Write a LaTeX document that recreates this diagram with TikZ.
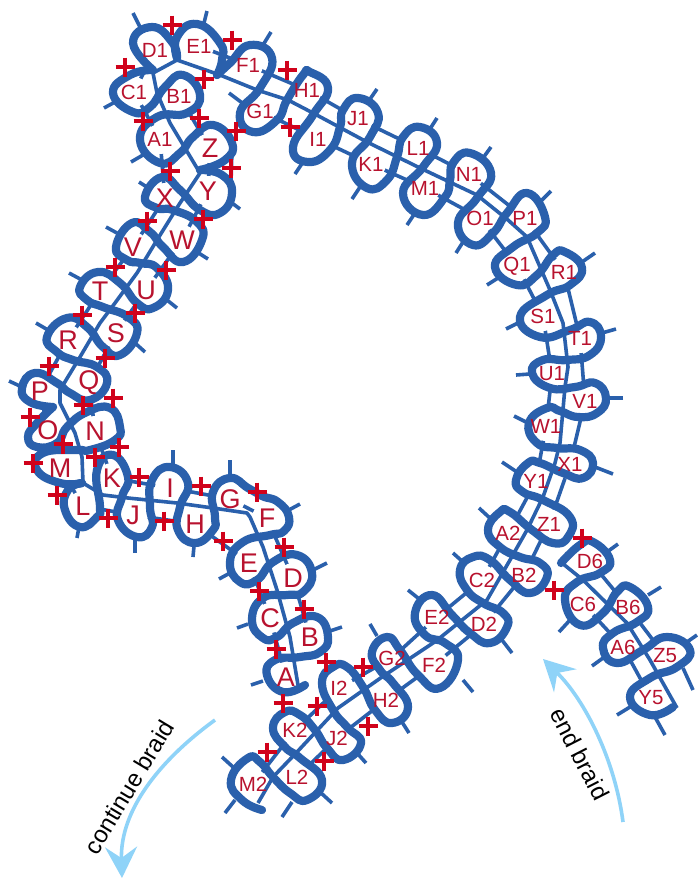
\documentclass[tikz,border=0pt]{standalone}
\usepackage{fontspec}
\setmainfont{Liberation Sans}
\usetikzlibrary{arrows.meta}
\definecolor{bandblue}{HTML}{2A60AC}
\definecolor{plusred}{HTML}{D0021B}
\definecolor{labred}{HTML}{B8122E}
\definecolor{arrowblue}{HTML}{8FD3F8}
\tikzset{
  wave/.style={draw=bandblue,line width=8.2pt,line cap=round,line join=round},
  rail/.style={draw=bandblue,line width=3.6pt,line join=round},
  plusmark/.style={draw=plusred,line width=3.2pt},
  biglab/.style={text=labred,inner sep=0pt,font=\fontsize{27}{27}\selectfont},
  smalllab/.style={text=labred,inner sep=0pt,font=\fontsize{20.5}{20.5}\selectfont},
  sweep/.style={draw=arrowblue,line width=3.6pt,-{Stealth[length=31pt,width=32pt,inset=11pt]}},
  caption/.style={text=black,inner sep=0pt,font=\fontsize{24}{24}\selectfont}
}
\newcommand{\wv}[1]{\draw[wave] plot[smooth,tension=0.85] coordinates {#1};}
\begin{document}
\begin{tikzpicture}[x=1pt,y=-1pt]
\useasboundingbox (0,0) rectangle (698,879);
\fill[white] (0,0) rectangle (698,879);
% letter positions
\foreach \n/\x/\y in {A/286/677,B/310/637,C/270/618,D/293/578,E/249/563,F/267/518,G/230/499,H/195/524,I/170/488,J/133/515,K/112/478,L/83/506,M/60/468,N/95/431,O/48/430,P/40/391,Q/89/383,R/68/340,S/116/333,T/100/291,U/146/290,V/133/247,W/182/240,X/165/198,Y/208/191,Z/210/148}
  {\coordinate (\n) at (\x,\y);}
\foreach \n/\x/\y in {A1/160/139,B1/179/96,C1/134/92,D1/155/50,E1/199/46,F1/248/65,G1/260/111,H1/307/90,I1/318/139,J1/358/119,K1/371/164,L1/418/148,M1/425/188,N1/469/174,O1/480/218,P1/525/218,Q1/517/266,R1/564/272,S1/543/316,T1/580/338,U1/552/374,V1/585/401,W1/546/426,X1/570/464,Y1/536/481,Z1/549/524,A2/508/533,B2/524/575,C2/482/580,D2/484/624,E2/437/617,F2/434/665,G2/392/658,H2/386/700,I2/339/688,J2/337/738,K2/295/730,L2/297/777,M2/253/784,D6/590/561,C6/583/604,B6/628/607,A6/623/647,Z5/665/656,Y5/651/698}
  {\coordinate (\n) at (\x,\y);}
% outer rails
\draw[rail] (A)--(C)--(E)--(H)--(J)--(L)--(M)--(O)--(P)--(R)--(T)--(V)--(X)--(A1)--(C1)--(D1);
\draw[rail] (B)--(D)--(F)--(G)--(I)--(K)--(N)--(Q)--(S)--(U)--(W)--(Y)--(Z)--(B1);
\draw[rail] (E1)--(F1)--(H1)--(J1)--(L1)--(N1)--(P1)--(R1)--(T1)--(V1)--(X1)--(Z1)--(B2)--(D2)--(F2)--(H2)--(J2)--(L2);
\draw[rail] (G1)--(I1)--(K1)--(M1)--(O1)--(Q1)--(S1)--(U1)--(W1)--(Y1)--(A2)--(C2)--(E2)--(G2)--(I2)--(K2)--(M2);
\draw[rail] (D6)--(B6)--(Z5);
\draw[rail] (C6)--(A6)--(Y5);
\draw[rail] (232,150)--(231,182);
% white lobes
\foreach \n in {A,B,C,D,E,F,G,H,I,J,K,L,M,N,O,P,Q,R,S,T,U,V,W,X,Y,Z,A1,B1,C1,D1,E1,F1,G1,H1,I1,J1,K1,L1,M1,N1,O1,P1,Q1,R1,S1,T1,U1,V1,W1,X1,Y1,Z1,A2,B2,C2,D2,E2,F2,G2,H2,I2,J2,K2,L2,M2,D6,C6,B6,A6,Z5,Y5}
  {\fill[white] (\n) circle (15);}
% stubs
\foreach \a/\b/\c/\d in {133/13/140/27,207/11/204/23,271/32/263/45,104/108/115/102,229/93/245/105,295/174/303/162,131/162/143/155,240/209/228/200,139/182/150/189,377/89/368/102,352/199/360/187,437/118/428/132,407/225/415/213,491/147/483/158,456/253/463/242,551/191/540/202,487/285/498/278,595/253/582/262,506/329/518/323,616/329/602/333,516/375/530/374,623/398/608/398,514/416/528/423,613/474/595/467,502/462/517/472,479/508/492/520,453/553/463/562,512/653/502/640,408/590/418/598,473/692/463/680,370/624/377/636,409/733/402/722,366/763/357/753,332/803/320/792,282/817/292/802,222/757/233/767,225/813/235/800,251/685/263/681,342/627/330/631,237/628/248/624,327/563/313/570,219/579/230/573,300/504/287/511,230/460/230/477,173/450/173/465,193/557/194/546,135/553/135/539,77/538/79/527,9/381/22/387,36/323/48/330,69/273/82/280,106/227/117/233,208/259/197/252,177/308/167/300,145/352/135/343,618/544/607/552,559/632/570/620,661/587/648/595,592/666/603/658,697/635/687/642,693/690/683/668,617/715/630/707,665/735/655/717}
  {\draw[rail] (\a,\b)--(\c,\d);}
% middle rails
\draw[rail] (298,685)--(290,637)--(277,590)--(263,547)--(250,517)--(247,513)--(213,508)--(177,503)--(128,498)--(103,495)--(83,483)--(82,457)--(75,433)--(60,403)--(60,390)--(80,357)--(100,323)--(115,303)--(137,273)--(157,240)--(180,203)--(200,173)--(170,123)--(157,93)--(153,73)--(177,60)--(220,75)--(257,90)--(288,100)--(313,113)--(367,142)--(418,167)--(477,195)--(508,220)--(527,237)--(550,290)--(563,323)--(568,367)--(565,387)--(560,443)--(555,463)--(543,497)--(527,530)--(510,560)--(487,600)--(436,641)--(382,677)--(338,708)--(297,752)--(273,777)--(258,803);
\draw[rail] (562,563)--(583,580)--(627,623)--(650,660)--(677,708);
% thick wave
\wv{(305,685)(283,692)(267,675)(275,660)(300,657)(320,652)(328,637)(317,617)(293,623)(277,637)(263,638)(252,620)(263,598)(287,595)(303,592)(312,573)(297,555)(273,562)(257,580)(240,582)(230,562)(243,542)(270,535)(284,531)(289,517)(278,502)(262,496)(248,488)(230,478)(213,492)(215,517)(213,530)(195,543)(178,530)(180,507)(188,483)(170,467)(152,480)(150,507)(152,527)(137,537)(118,520)(122,497)(128,477)(113,455)(97,470)(100,507)(97,517)(80,527)(65,510)(68,490)(82,483)}
\wv{(82,483)(60,483)(37,470)(43,453)(77,450)(90,450)(115,440)(120,427)(110,408)(87,412)(67,427)(57,443)(37,447)(28,437)(37,423)(53,407)}
\wv{(53,407)(30,402)(22,388)(35,373)(57,383)(70,393)(90,400)(107,383)(97,367)(73,360)(57,352)(47,337)(67,318)(87,327)(103,347)(120,355)(137,333)(128,317)(103,307)(87,300)(80,287)(98,272)(120,283)(137,303)(153,308)(168,290)(157,268)(140,263)(127,260)(116,247)(132,223)(150,232)(163,247)(183,262)(202,240)(197,222)(173,210)(157,208)(145,197)(162,177)(180,190)(200,210)(220,213)(232,193)(222,175)(200,170)}
\wv{(200,170)(225,160)(232,143)(213,125)(193,137)(180,153)(160,163)(140,140)(157,117)(187,113)(200,95)(183,75)(165,87)(150,107)(133,112)(113,93)(130,75)(153,70)}
\wv{(153,70)(133,43)(152,27)(172,42)(177,58)}
\wv{(177,58)(177,37)(197,24)(220,43)(222,60)(217,75)}
\wv{(217,75)(230,63)(250,45)(272,58)(260,88)(240,113)(253,132)(277,120)(287,100)(303,75)(310,72)(328,88)(313,115)(293,147)(308,162)(330,150)(340,127)(343,110)(358,98)(378,113)(370,137)(352,163)(367,188)(387,180)(397,157)(403,137)(420,127)(437,143)(423,167)(403,193)(423,215)(445,197)(450,180)(453,163)(470,153)(491,173)(477,198)(458,223)(473,245)(493,233)(507,213)(527,193)(545,217)(537,233)(513,247)(495,267)(517,285)(537,275)(553,255)(565,252)(582,268)(570,285)(547,295)(520,317)(540,337)(570,330)(590,322)(601,337)(590,355)(567,360)(543,360)(532,373)(550,388)(575,387)(595,383)(606,398)(597,413)(578,417)(560,411)(547,408)(529,423)(537,443)(557,448)(580,450)(593,463)(583,478)(563,473)(540,463)(528,463)(516,480)(523,492)(543,500)(570,517)(568,537)(553,543)(532,530)(510,512)(500,512)(488,530)(500,547)(520,557)(540,563)(547,577)(530,593)(510,580)(490,560)(473,557)(460,570)(467,590)(483,603)(503,613)(507,627)(490,643)(470,633)(452,615)(432,595)(415,613)(425,635)(445,643)(458,660)(440,688)(418,675)(400,650)(387,637)(372,652)(380,670)(393,683)(408,707)(392,723)(375,710)(363,687)(347,667)(333,667)(322,683)(333,710)(347,727)(361,743)(343,760)(327,748)(315,730)(300,715)(285,712)(273,728)(285,747)(300,758)(322,780)(307,800)(290,793)(273,777)(260,762)(248,758)(231,780)(242,800)(262,810)}
\wv{(561,563)(580,545)(593,542)(610,560)(600,573)(577,582)(565,600)(580,625)(603,613)(617,592)(630,587)(648,607)(637,622)(613,633)(603,648)(617,663)(643,650)(667,637)(690,650)(677,667)(650,678)(630,697)(650,715)(673,707)}
% plus marks
\foreach \x/\y in {172/25,232/40,287/70,125/67,204/79,143/121,199/118,236/131,290/127,231/168,170/171,147/221,203/219,115/267,166/270,82/315,135/313,49/366,105/358,113/398,83/405,30/417,63/444,119/447,95/457,33/463,57/495,139/477,201/486,257/492,108/518,164/521,223/541,284/547,259/591,304/609,276/649,326/662,363/667,283/703,317/706,368/726,324/761,267/752,582/538,554/590}
  {\draw[plusmark] ({\x-9.5},\y)--({\x+9.5},\y) (\x,{\y-9.5})--(\x,{\y+9.5});}
% labels
\foreach \n in {A,B,C,D,E,F,G,H,I,J,K,L,M,N,O,P,Q,R,S,T,U,V,W,X,Y,Z}
  {\node[biglab] (l\n) at (\n) {\n};}
\foreach \n in {A1,B1,C1,D1,E1,F1,G1,H1,I1,J1,K1,L1,M1,N1,O1,P1,Q1,R1,S1,T1,U1,V1,W1,X1,Y1,Z1,A2,B2,C2,D2,E2,F2,G2,H2,I2,J2,K2,L2,M2,D6,C6,B6,A6,Z5,Y5}
  {\node[smalllab] (l\n) at (\n) {\n};}
% arrows
\coordinate (cs) at (215,720); \coordinate (ce) at (122,878);
\coordinate (es) at (623,822); \coordinate (ee) at (543,659);
\draw[sweep] (cs) .. controls (160,760) and (120,810) .. (ce);
\draw[sweep] (es) .. controls (615,760) and (585,700) .. (ee);
\node[caption,rotate=59] (contlab) at (129,787) {continue braid};
\node[caption,rotate=-63] (endlab) at (580,754) {end braid};
\end{tikzpicture}
\end{document}
